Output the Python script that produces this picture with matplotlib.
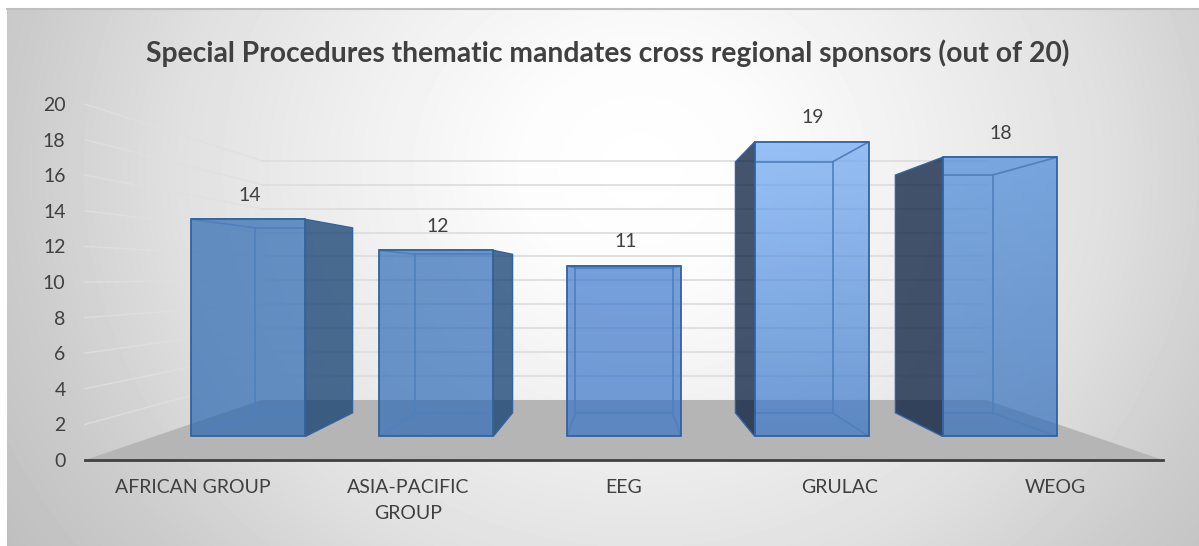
import matplotlib
matplotlib.use("Agg")
import matplotlib.pyplot as plt
import numpy as np
from matplotlib.patches import Polygon

plt.rcParams["font.family"] = ["Lato", "DejaVu Sans"]

categories = ["AFRICAN GROUP", "ASIA-PACIFIC\nGROUP", "EEG", "GRULAC", "WEOG"]
values = [14, 12, 11, 19, 18]
y_ticks = list(range(0, 21, 2))
title = "Special Procedures thematic mandates cross regional sponsors (out of 20)"

# perspective of the fake 3d box, in data units
van_x, van_y = 2.0, 10.28
s_wall, s_back, s_front = 0.672, 0.742, 0.871
half_w = 0.3035

# per bar look: gradient top / bottom, side face colour and alpha
top_cols = [(41, 103, 178), (45, 107, 183), (60, 120, 205), (107, 167, 243), (73, 137, 219)]
bot_cols = [(41, 103, 178), (45, 107, 183), (54, 115, 198), (55, 117, 200), (50, 111, 187)]
side_cols = [(18, 62, 112), (18, 62, 112), (18, 62, 112), (5, 28, 60), (5, 28, 60)]
face_alpha = 0.7
side_alpha = 0.75
edge_col = "#33639f"
inner_col = "#4f80bd"


def proj(x, y, s):
    return van_x + (x - van_x) * s, van_y + (y - van_y) * s


W, H = 1199, 546
fig = plt.figure(figsize=(W / 100, H / 100), dpi=100, facecolor="white")

# background radial gradient
bg_ax = fig.add_axes([7 / W, 0, (W - 7) / W, (H - 9) / H])
bg_ax.axis("off")
xx, yy = np.meshgrid(np.arange(7, W), np.arange(9, H))
t = np.sqrt(((xx - 640) / 620) ** 2 + ((yy - 170) / 560) ** 2)
shade = np.interp(t, [0, 0.2, 0.45, 0.75, 1.0, 1.3], [255, 252, 240, 224, 204, 186])
bg_ax.imshow(shade, cmap="gray", vmin=0, vmax=255, aspect="auto", interpolation="bilinear")
fig.add_artist(plt.Line2D([7 / W, 1], [(H - 9) / H] * 2, color="#bfbfbf", lw=1.5))

ax = fig.add_axes([85 / W, (H - 460) / H, 1078 / W, 356 / H])
ax.patch.set_alpha(0)
for name in ["top", "left", "right"]:
    ax.spines[name].set_visible(False)
ax.spines["bottom"].set_color("#404040")
ax.spines["bottom"].set_linewidth(2.0)
ax.spines["bottom"].set_zorder(6)

x0, x1 = -0.5, 4.5

# floor
floor = [proj(x0, 0, 1), proj(x1, 0, 1), proj(x1, 0, s_wall), proj(x0, 0, s_wall)]
ax.add_patch(Polygon(floor, closed=True, fc="#b5b5b5", ec="none", zorder=1))

# gridlines on back wall and left side wall
for v in y_ticks[1:]:
    a = proj(x0, v, 1)
    b = proj(x0, v, s_wall)
    c = proj(x1, v, s_wall)
    ax.plot([a[0], b[0]], [a[1], b[1]], color="#e0e0e0", lw=1.1, alpha=0.75, zorder=2, clip_on=False)
    ax.plot([b[0], c[0]], [b[1], c[1]], color="#dedede", lw=1.3, zorder=2, clip_on=False)

# bars
for i, v in enumerate(values):
    l, r = i - half_w, i + half_w
    f = [proj(l, 0, s_front), proj(r, 0, s_front), proj(r, v, s_front), proj(l, v, s_front)]
    b = [proj(l, 0, s_back), proj(r, 0, s_back), proj(r, v, s_back), proj(l, v, s_back)]

    side = np.array(side_cols[i]) / 255
    if b[1][0] > f[1][0] + 1e-6:
        ax.add_patch(Polygon([f[1], b[1], b[2], f[2]], closed=True, fc=(*side, side_alpha),
                             ec=edge_col, lw=1.0, zorder=3))
    if b[0][0] < f[0][0] - 1e-6:
        ax.add_patch(Polygon([f[0], b[0], b[3], f[3]], closed=True, fc=(*side, side_alpha),
                             ec=edge_col, lw=1.0, zorder=3))

    # front face, vertical gradient clipped to the rectangle
    top = np.array(top_cols[i]) / 255
    bot = np.array(bot_cols[i]) / 255
    k = np.linspace(0, 1, 64)[:, None]
    grad = np.dstack([top[c] + (bot[c] - top[c]) * k for c in range(3)])
    ax.imshow(grad, extent=[f[0][0], f[1][0], f[0][1], f[2][1]],
              aspect="auto", alpha=face_alpha, zorder=4, origin="upper")
    face = Polygon(f, closed=True, fc="none", ec=edge_col, lw=1.3, zorder=5)
    ax.add_patch(face)

    # inner edges of the box, only seen through the front face
    inner = Polygon(b, closed=True, fc="none", ec=inner_col, lw=1.2, zorder=4.5)
    ax.add_patch(inner)
    inner.set_clip_path(face)
    for p, q in zip(f, b):
        line, = ax.plot([p[0], q[0]], [p[1], q[1]], color=inner_col, lw=1.2, zorder=4.5)
        line.set_clip_path(face)

    ax.annotate(str(v), xy=(f[3][0] / 2 + f[2][0] / 2, f[2][1]), xytext=(1, 17.5),
                textcoords="offset points", ha="center", va="center",
                fontsize=14, color="#404040", zorder=7)

ax.set_xlim(x0, x1)
ax.set_ylim(0, 20)
ax.set_xticks(range(len(categories)))
ax.set_xticklabels(categories, fontsize=14, color="#404040", linespacing=1.6)
ax.set_yticks(y_ticks)
ax.tick_params(axis="y", length=0, pad=14, labelsize=14, labelcolor="#404040")
ax.tick_params(axis="x", length=0, pad=14)

fig.text(607.5 / W, (H - 53) / H, title, ha="center", va="center", fontsize=20.3,
         fontweight="bold", color="#404040")

fig.savefig("out.png", dpi=100)
